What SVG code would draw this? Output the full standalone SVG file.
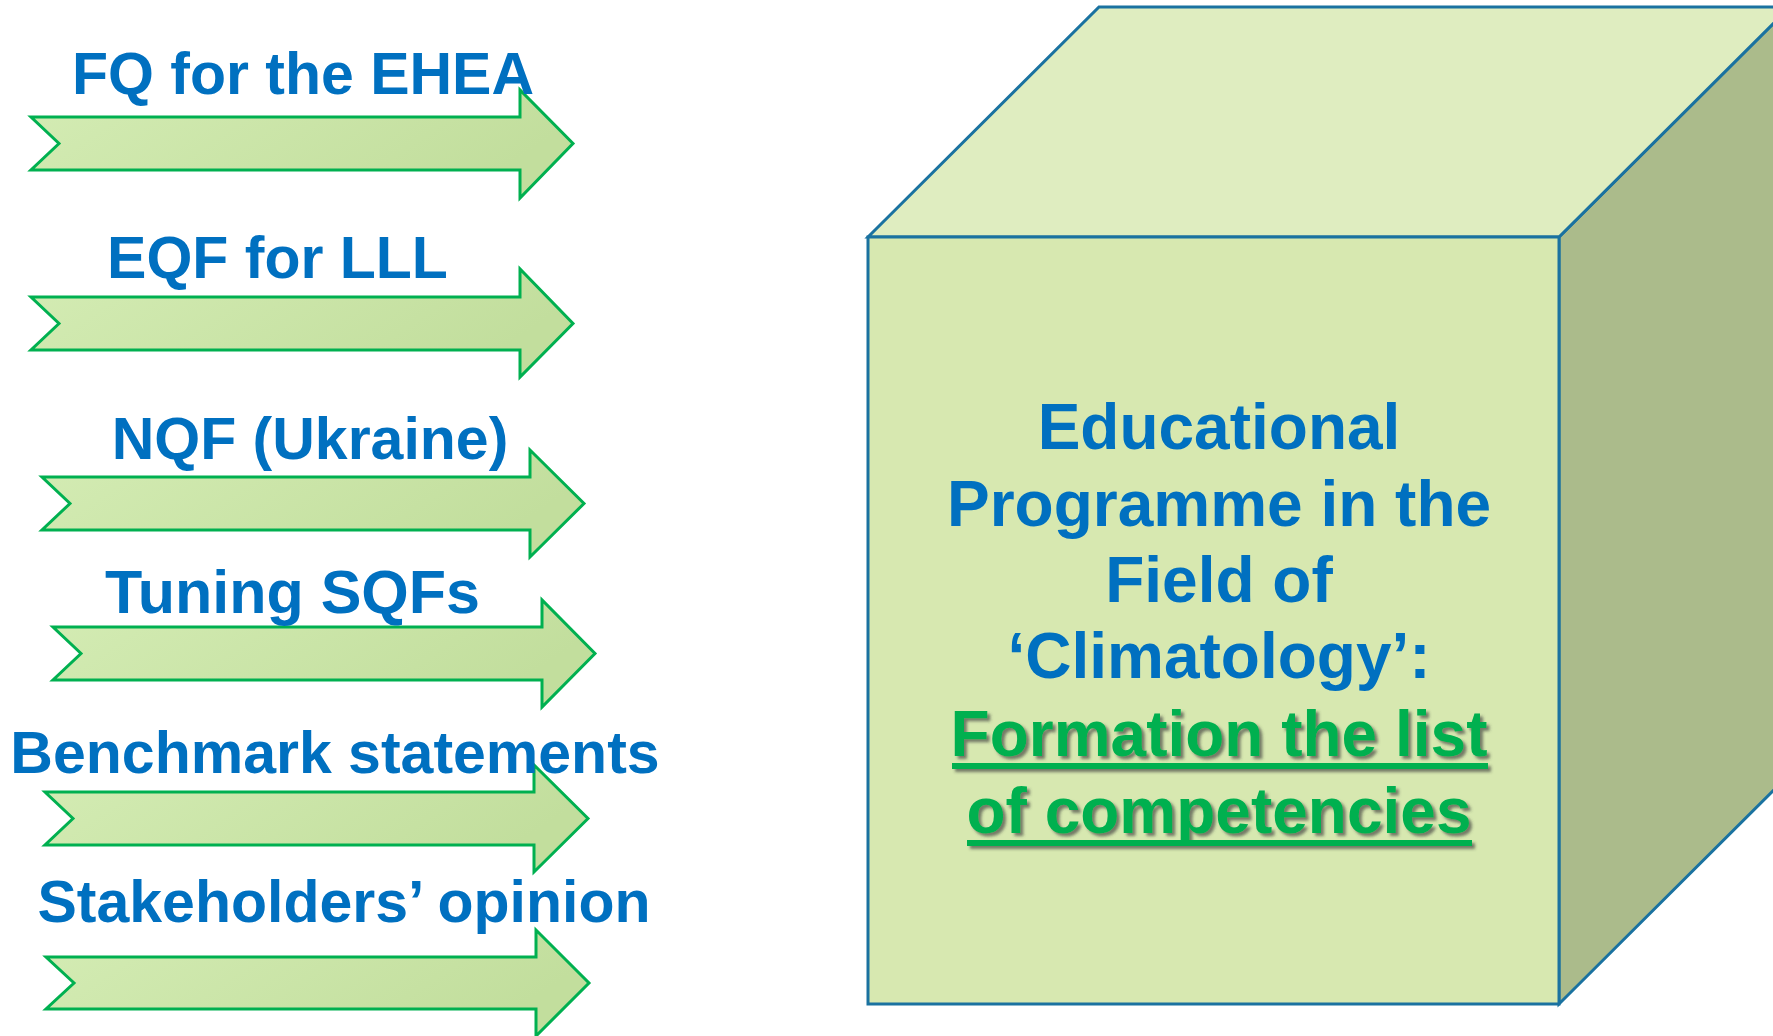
<svg xmlns="http://www.w3.org/2000/svg" width="1773" height="1036" viewBox="0 0 1773 1036">
  <defs>
    <linearGradient id="arrowGrad" x1="0" y1="0" x2="1" y2="0.3">
      <stop offset="0" stop-color="#d4ecb4"/>
      <stop offset="1" stop-color="#c2de9d"/>
    </linearGradient>
    <filter id="shadow" x="-5%" y="-20%" width="115%" height="150%">
      <feDropShadow dx="3" dy="3" stdDeviation="1.5" flood-color="#404040" flood-opacity="0.65"/>
    </filter>
  </defs>
  <style>
    .arrow { fill: url(#arrowGrad); stroke: #00b050; stroke-width: 3; stroke-linejoin: miter; }
    .label { font-family: "Liberation Sans", Arial, sans-serif; font-weight: bold; font-size: 59px; fill: #0070c0; text-anchor: middle; }
    .cube { stroke: #1a72a0; stroke-width: 3; stroke-linejoin: miter; }
    .ctext { font-family: "Liberation Sans", Arial, sans-serif; font-weight: bold; font-size: 64px; fill: #0070c0; text-anchor: middle; }
    .gtext { font-family: "Liberation Sans", Arial, sans-serif; font-weight: bold; font-size: 64px; fill: #00b050; text-anchor: middle; }
  </style>
  <rect width="1773" height="1036" fill="#ffffff"/>

  <g id="arrows">
    <g id="arrow-fq">
      <polygon class="arrow" points="31,117 520,117 520,90 573,143.5 520,198 520,170 31,170 59,143.5"/>
      <text class="label" x="303" y="94">FQ for the EHEA</text>
    </g>
    <g id="arrow-eqf">
      <polygon class="arrow" points="31,297 520,297 520,269 573,323.5 520,377 520,350 31,350 59,323.5"/>
      <text class="label" x="277.5" y="277.5">EQF for LLL</text>
    </g>
    <g id="arrow-nqf">
      <polygon class="arrow" points="42,477 530,477 530,450 584,503.5 530,557 530,530 42,530 70,503.5"/>
      <text class="label" x="310" y="458.5">NQF (Ukraine)</text>
    </g>
    <g id="arrow-tuning">
      <polygon class="arrow" points="53,627 542,627 542,600 595,653.5 542,707 542,680 53,680 81,653.5"/>
      <text class="label" x="292.5" y="612.5" style="font-size:61px">Tuning SQFs</text>
    </g>
    <g id="arrow-benchmark">
      <polygon class="arrow" points="45,792 534,792 534,765 588,818.5 534,872 534,845 45,845 73,818.5"/>
      <text class="label" x="335" y="772.5">Benchmark statements</text>
    </g>
    <g id="arrow-stakeholders">
      <polygon class="arrow" points="46,957 536,957 536,930 589,983 536,1036 536,1009 46,1009 74,983"/>
      <text class="label" x="344" y="922">Stakeholders’ opinion</text>
    </g>
  </g>

  <g id="cube">
    <polygon class="cube" fill="#abbb8b" points="1559,237 1790,7 1790,774 1559,1004"/>
    <polygon class="cube" fill="#dfedc0" points="868,237 1099,7 1790,7 1559,237"/>
    <rect class="cube" fill="#d7e8b0" x="868" y="237" width="691" height="767"/>
    <text class="ctext" x="1219" y="449">Educational</text>
    <text class="ctext" x="1219" y="526">Programme in the</text>
    <text class="ctext" x="1219" y="602">Field of</text>
    <text class="ctext" x="1219" y="678">‘Climatology’:</text>
    <g filter="url(#shadow)">
      <text class="gtext" x="1219" y="756">Formation the list</text>
      <rect x="952" y="763" width="536" height="6" fill="#00b050"/>
      <text class="gtext" x="1219" y="833">of competencies</text>
      <rect x="967" y="840" width="505" height="6" fill="#00b050"/>
    </g>
  </g>
</svg>
